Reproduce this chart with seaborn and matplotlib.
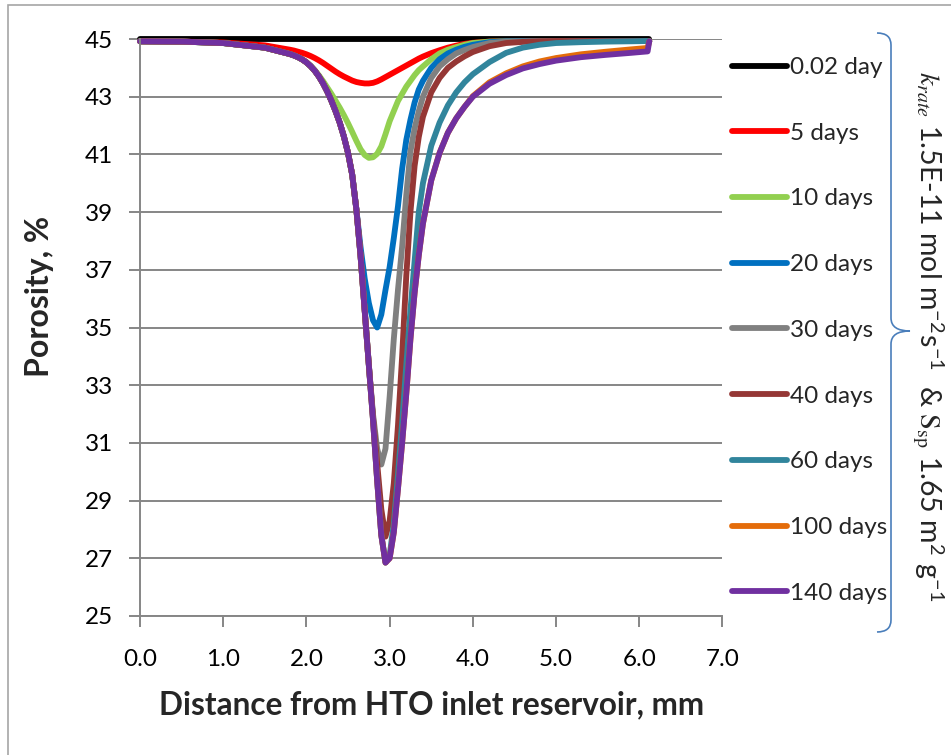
import numpy as np
import pandas as pd
import matplotlib
matplotlib.use("Agg")
import matplotlib.pyplot as plt
from matplotlib.path import Path
from matplotlib.patches import PathPatch, Rectangle
import seaborn as sns

# distance from HTO inlet reservoir (mm), shared by all series
x_mm = [0.0, 0.5, 1.0, 1.5,
        1.8, 1.85, 1.9, 1.95,
        2.0, 2.05, 2.1, 2.15, 2.2, 2.25, 2.3, 2.35, 2.4, 2.45, 2.5, 2.55,
        2.6, 2.65, 2.7, 2.75, 2.8, 2.85, 2.9, 2.95, 3.0, 3.05, 3.1, 3.15,
        3.2, 3.25, 3.3, 3.35, 3.4,
        3.5, 3.6, 3.7, 3.8, 3.9, 4.0, 4.2, 4.4, 4.6, 4.8,
        5.0, 5.3, 5.6, 5.9, 6.1, 6.12]

# porosity (%); the long-time curves share the inlet flank
flank = [44.92, 44.91, 44.86, 44.70,
         44.48, 44.43, 44.37, 44.29,
         44.19, 44.06, 43.90, 43.70, 43.46, 43.18, 42.86, 42.50, 42.10, 41.62, 41.05, 40.30]

por_002d = [45.0] * 53
por_5d = [44.92, 44.91, 44.88, 44.78,
          44.63, 44.60, 44.56, 44.52,
          44.47, 44.41, 44.34, 44.26, 44.17, 44.07, 43.97, 43.87, 43.78, 43.70, 43.63, 43.56,
          43.51, 43.48, 43.46, 43.46, 43.48, 43.53, 43.60, 43.68, 43.76, 43.84, 43.92, 44.00,
          44.08, 44.16, 44.24, 44.32, 44.39,
          44.51, 44.61, 44.70, 44.77, 44.83, 44.87, 44.91, 44.92, 44.93, 44.93,
          44.93, 44.93, 44.93, 44.93, 44.93, 44.93]
por_10d = [44.92, 44.91, 44.86, 44.70,
           44.48, 44.43, 44.37, 44.29,
           44.20, 44.07, 43.92, 43.74, 43.54, 43.32, 43.10, 42.86, 42.62, 42.36, 42.08, 41.78,
           41.47, 41.18, 40.98, 40.88, 40.90, 41.02, 41.28, 41.70, 42.15, 42.50, 42.85, 43.10,
           43.35, 43.55, 43.75, 43.92, 44.05,
           44.30, 44.50, 44.63, 44.72, 44.80, 44.86, 44.91, 44.92, 44.93, 44.93,
           44.93, 44.93, 44.93, 44.93, 44.93, 44.93]
por_20d = flank + [39.10, 37.80, 36.70, 35.85, 35.25, 35.00, 35.45, 36.30, 37.10, 38.10,
                   39.20, 40.50, 41.50, 42.20, 42.80, 43.25, 43.55,
                   44.00, 44.30, 44.50, 44.63, 44.73, 44.80, 44.89, 44.92, 44.93, 44.93,
                   44.93, 44.93, 44.93, 44.93, 44.93, 44.93]
por_30d = flank + [39.10, 37.50, 35.60, 33.70, 32.00, 30.80, 30.25, 30.80, 32.60, 34.60,
                   36.30, 37.80, 39.60, 41.10, 41.90, 42.50, 43.00,
                   43.65, 44.05, 44.30, 44.50, 44.62, 44.72, 44.86, 44.91, 44.92, 44.93,
                   44.93, 44.93, 44.93, 44.93, 44.93, 44.93]
por_40d = flank + [39.10, 37.50, 35.60, 33.70, 31.90, 30.30, 28.70, 27.75, 28.30, 29.60,
                   31.60, 34.00, 36.80, 39.00, 40.60, 41.60, 42.30,
                   43.15, 43.65, 44.00, 44.22, 44.40, 44.55, 44.75, 44.86, 44.90, 44.92,
                   44.93, 44.93, 44.93, 44.93, 44.93, 44.93]
por_60d = flank + [39.10, 37.50, 35.60, 33.70, 31.80, 29.70, 27.80, 26.85, 27.10, 28.20,
                   29.90, 31.70, 33.70, 35.60, 37.30, 39.00, 40.00,
                   41.30, 42.10, 42.70, 43.15, 43.50, 43.78, 44.20, 44.52, 44.70, 44.80,
                   44.86, 44.89, 44.91, 44.92, 44.93, 44.93]
por_100d = flank + [39.10, 37.50, 35.60, 33.70, 31.80, 29.70, 27.80, 26.85, 27.00, 27.90,
                    29.40, 31.00, 32.70, 34.60, 36.20, 37.50, 38.60,
                    40.10, 41.05, 41.75, 42.25, 42.65, 43.02, 43.50, 43.81, 44.05, 44.22,
                    44.34, 44.47, 44.56, 44.64, 44.69, 44.92]
por_140d = flank + [39.10, 37.50, 35.60, 33.70, 31.80, 29.70, 27.80, 26.85, 27.00, 27.90,
                    29.40, 31.00, 32.70, 34.60, 36.20, 37.50, 38.60,
                    40.10, 41.05, 41.75, 42.25, 42.65, 43.00, 43.45, 43.75, 43.98, 44.13,
                    44.25, 44.37, 44.45, 44.52, 44.57, 44.92]

labels = ["0.02 day", "5 days", "10 days", "20 days", "30 days",
          "40 days", "60 days", "100 days", "140 days"]
colors = ["#000000", "#FF0000", "#92D050", "#0070C0", "#808080",
          "#953735", "#31859C", "#E46C0A", "#7030A0"]
series = [por_002d, por_5d, por_10d, por_20d, por_30d,
          por_40d, por_60d, por_100d, por_140d]

df = pd.concat([pd.DataFrame({"x": x_mm, "porosity": s, "time": lab})
                for lab, s in zip(labels, series)], ignore_index=True)

sns.set_theme(style="white")
plt.rcParams["font.family"] = ["Lato", "DejaVu Sans"]
plt.rcParams["mathtext.fontset"] = "stix"

W, H = 951, 755
fig = plt.figure(figsize=(W / 100, H / 100), dpi=100)
ax = fig.add_axes([140 / W, 1 - 616 / H, 582.5 / W, 577 / H])

sns.lineplot(data=df, x="x", y="porosity", hue="time", hue_order=labels,
             palette=dict(zip(labels, colors)), linewidth=4.2,
             estimator=None, legend=False, ax=ax)
for ln in ax.lines:
    ln.set_clip_on(False)
    ln.set_solid_capstyle("round")
    ln.set_solid_joinstyle("round")

grey = "#868686"
ax.set_xlim(0, 7)
ax.set_ylim(25, 45)
ax.set_xticks(np.arange(0, 7.01, 1.0))
ax.set_xticklabels([f"{v:.1f}" for v in np.arange(0, 7.01, 1.0)])
ax.set_yticks(range(25, 46, 2))
ax.yaxis.grid(True, color=grey, lw=1.4)
ax.xaxis.grid(False)
ax.set_axisbelow(True)
for side in ["top", "right"]:
    ax.spines[side].set_visible(False)
for side in ["left", "bottom"]:
    ax.spines[side].set_color(grey)
    ax.spines[side].set_linewidth(1.4)
ax.tick_params(axis="both", direction="out", length=8, width=1.4, color=grey,
               labelsize=17.5, labelcolor="black", left=True, bottom=True)
ax.tick_params(axis="y", pad=11.5)
ax.tick_params(axis="x", pad=16)

ax.set_xlabel("Distance from HTO inlet reservoir, mm", fontsize=22.7, fontweight="bold")
ax.xaxis.set_label_coords(0.5, -0.154)
ax.xaxis.label.set_va("center")
ax.set_ylabel("Porosity, %", fontsize=23, fontweight="bold")
ax.yaxis.set_label_coords(-0.172, 0.553)
ax.yaxis.label.set_va("center")

leg = ax.legend(ax.lines, labels, loc="upper left",
                bbox_to_anchor=(732 / W, 1 - 57 / H), bbox_transform=fig.transFigure,
                frameon=False, fontsize=17.5, handlelength=2.25, handletextpad=0.12,
                labelspacing=1.84, borderpad=0, borderaxespad=0)

# curly brace on the right
bc = "#4A7EBB"
pts = [(877, 33), (891, 33), (891, 45), (891, 318), (891, 331), (910, 331),
       (891, 331), (891, 344), (891, 620), (891, 632), (877, 632)]
codes = [Path.MOVETO, Path.CURVE3, Path.CURVE3, Path.LINETO, Path.CURVE3, Path.CURVE3,
         Path.CURVE3, Path.CURVE3, Path.LINETO, Path.CURVE3, Path.CURVE3]
verts = [(px / W, 1 - py / H) for px, py in pts]
fig.add_artist(PathPatch(Path(verts, codes), transform=fig.transFigure,
                         fill=False, ec=bc, lw=1.2))

fig.text(928 / W, 1 - 336 / H,
         r"$k_{rate}$ 1.5E-11 mol m$^{\mathregular{-2}}$s$^{\mathregular{-1}}$  & "
         r"$\mathrm{S}_{\mathrm{sp}}$ 1.65 m$^{\mathregular{2}}$ g$^{\mathregular{-1}}$",
         rotation=-90, ha="center", va="center", fontsize=20.5)

# outer chart frame
fig.add_artist(Rectangle((8 / W, -0.1), 1.2, 1.1 - 5 / H, transform=fig.transFigure,
                         fill=False, ec="#a6a6a6", lw=1.2))

fig.savefig("out.png", dpi=100)
